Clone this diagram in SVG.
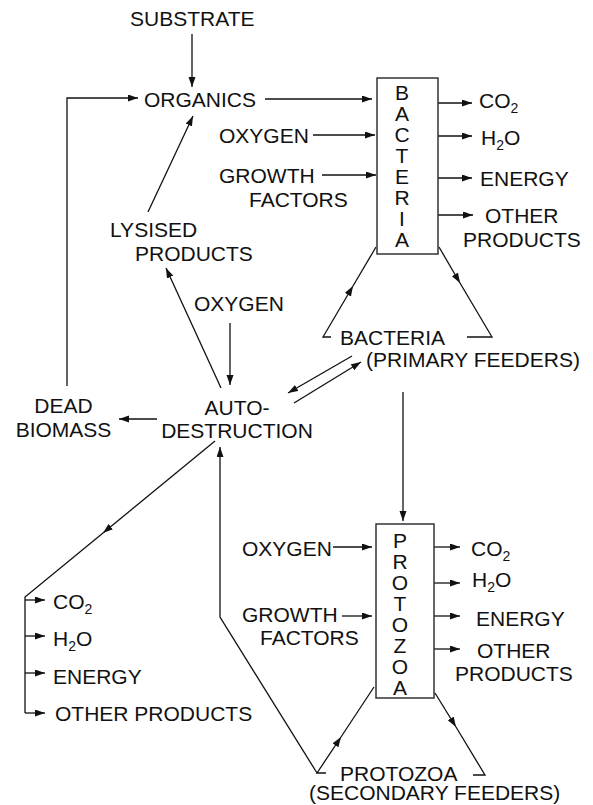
<svg xmlns="http://www.w3.org/2000/svg" width="593" height="805" viewBox="0 0 593 805">
<style>
text{font-family:"Liberation Sans",Arial,Helvetica,sans-serif;font-size:21px;fill:#111}
.s{font-size:14px}
.m{text-anchor:middle}
.box{fill:#fff;stroke:#333;stroke-width:1.5}
.c path,.c line{fill:none;stroke:#111;stroke-width:1.3}
.a{marker-end:url(#ah)}
</style>
<defs>
<marker id="ah" markerUnits="userSpaceOnUse" markerWidth="11" markerHeight="8" refX="10" refY="3.5" orient="auto">
<path d="M0,0 L10,3.5 L0,7 z" fill="#111"/>
</marker>
</defs>

<g id="connectors" class="c">
<line class="a" x1="192" y1="34" x2="192" y2="87"/>
<path class="a" d="M67,386 V98 H138"/>
<line class="a" x1="265" y1="99" x2="372" y2="99"/>
<line class="a" x1="313" y1="135" x2="375" y2="135"/>
<line class="a" x1="322" y1="175" x2="376" y2="175"/>
<line class="a" x1="438" y1="103" x2="472" y2="103"/>
<line class="a" x1="438" y1="136" x2="472" y2="136"/>
<line class="a" x1="438" y1="178" x2="472" y2="178"/>
<line class="a" x1="438" y1="215" x2="473" y2="215"/>
<path class="a" d="M331,337 H323 L353,286"/>
<path d="M353,286 L376,247"/>
<path class="a" d="M439,247 L460,283"/>
<path d="M460,283 L492,337 H467"/>
<line class="a" x1="148" y1="212" x2="193" y2="116"/>
<line class="a" x1="221" y1="388" x2="166" y2="268"/>
<line class="a" x1="230" y1="323" x2="230" y2="385"/>
<line class="a" x1="157" y1="419" x2="119" y2="419"/>
<line class="a" x1="352" y1="356" x2="288" y2="393"/>
<line class="a" x1="294" y1="403" x2="361" y2="362"/>
<line class="a" x1="403" y1="392" x2="403" y2="521"/>
<path class="a" d="M215,441 L103,533"/>
<path d="M103,533 L25,597 V713"/>
<line class="a" x1="25" y1="600" x2="45" y2="600"/>
<line class="a" x1="25" y1="636" x2="45" y2="636"/>
<line class="a" x1="25" y1="673" x2="45" y2="673"/>
<line class="a" x1="25" y1="713" x2="45" y2="713"/>
<path class="a" d="M326,773 H317 L341,737"/>
<path d="M341,737 L374,687"/>
<path class="a" d="M435,693 L456,727"/>
<path d="M456,727 L485,775 H473"/>
<path class="a" d="M317,773 L220,617 V447"/>
<line class="a" x1="333" y1="547" x2="372" y2="547"/>
<line class="a" x1="342" y1="616" x2="372" y2="616"/>
<line class="a" x1="434" y1="547" x2="460" y2="547"/>
<line class="a" x1="434" y1="583" x2="460" y2="583"/>
<line class="a" x1="434" y1="616" x2="460" y2="616"/>
<line class="a" x1="434" y1="649" x2="460" y2="649"/>
</g>

<g id="substrate"><text x="130" y="26">SUBSTRATE</text></g>
<g id="organics"><text x="144" y="107">ORGANICS</text></g>
<g id="oxygen-b"><text x="219" y="143">OXYGEN</text></g>
<g id="growth-b"><text x="219" y="183">GROWTH</text><text x="249" y="207">FACTORS</text></g>

<g id="bacteria">
<rect class="box" x="377" y="78" width="61" height="176"/>
<text class="m" x="402" y="100">B</text>
<text class="m" x="402" y="121">A</text>
<text class="m" x="402" y="142">C</text>
<text class="m" x="402" y="163">T</text>
<text class="m" x="402" y="184">E</text>
<text class="m" x="402" y="205">R</text>
<text class="m" x="402" y="226">I</text>
<text class="m" x="402" y="247">A</text>
</g>

<g id="b-co2"><text x="479" y="108">CO<tspan class="s" dy="5">2</tspan></text></g>
<g id="b-h2o"><text x="481" y="145">H<tspan class="s" dy="5">2</tspan><tspan dy="-5">O</tspan></text></g>
<g id="b-energy"><text x="480" y="186">ENERGY</text></g>
<g id="b-other"><text x="485" y="223">OTHER</text><text x="463" y="247">PRODUCTS</text></g>

<g id="bacteria-primary"><text x="340" y="345">BACTERIA</text><text x="366" y="367">(PRIMARY FEEDERS)</text></g>

<g id="lysised"><text x="110" y="237">LYSISED</text><text x="135" y="261">PRODUCTS</text></g>
<g id="oxygen-a"><text x="194" y="311">OXYGEN</text></g>
<g id="autodestruction"><text class="m" x="237" y="415">AUTO-</text><text class="m" x="237" y="438">DESTRUCTION</text></g>
<g id="dead-biomass"><text class="m" x="63.5" y="413">DEAD</text><text class="m" x="63.5" y="437">BIOMASS</text></g>

<g id="l-co2"><text x="53" y="609">CO<tspan class="s" dy="5">2</tspan></text></g>
<g id="l-h2o"><text x="53" y="646">H<tspan class="s" dy="5">2</tspan><tspan dy="-5">O</tspan></text></g>
<g id="l-energy"><text x="53" y="684">ENERGY</text></g>
<g id="l-other"><text x="55" y="721">OTHER PRODUCTS</text></g>

<g id="oxygen-p"><text x="242" y="556">OXYGEN</text></g>
<g id="growth-p"><text x="242" y="622">GROWTH</text><text x="260" y="645">FACTORS</text></g>

<g id="protozoa">
<rect class="box" x="376" y="524" width="58" height="174"/>
<text class="m" x="400" y="548">P</text>
<text class="m" x="400" y="569">R</text>
<text class="m" x="400" y="590">O</text>
<text class="m" x="400" y="611">T</text>
<text class="m" x="400" y="632">O</text>
<text class="m" x="400" y="653">Z</text>
<text class="m" x="400" y="674">O</text>
<text class="m" x="400" y="695">A</text>
</g>

<g id="p-co2"><text x="471" y="556">CO<tspan class="s" dy="5">2</tspan></text></g>
<g id="p-h2o"><text x="472" y="587">H<tspan class="s" dy="5">2</tspan><tspan dy="-5">O</tspan></text></g>
<g id="p-energy"><text x="476" y="626">ENERGY</text></g>
<g id="p-other"><text x="477" y="658">OTHER</text><text x="455" y="681">PRODUCTS</text></g>

<g id="protozoa-secondary"><text x="340" y="781">PROTOZOA</text><text x="309" y="800">(SECONDARY FEEDERS)</text></g>
</svg>
